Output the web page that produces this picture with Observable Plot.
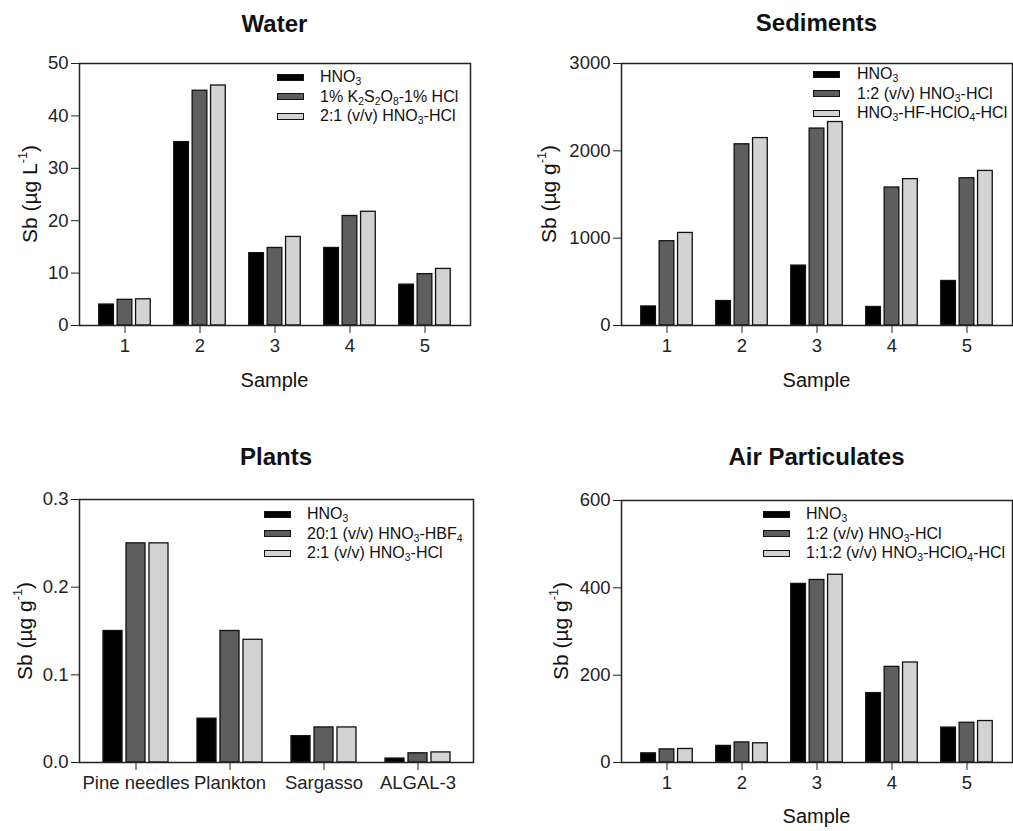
<!DOCTYPE html>
<html>
<head>
<meta charset="utf-8">
<script src="https://cdn.jsdelivr.net/npm/d3@7"></script>
<script src="https://cdn.jsdelivr.net/npm/@observablehq/plot@0.6"></script>
<style>
  html, body { margin: 0; padding: 0; background: #fff; }
  #root { position: relative; width: 1013px; height: 831px; overflow: hidden; background: #fff;
          font-family: "Liberation Sans", Arial, Helvetica, sans-serif; color: #111; }
  .abs { position: absolute; white-space: nowrap; }
  .title { font-weight: bold; font-size: 24px; line-height: 24px; transform: translateX(-50%); }
  .xlab { font-size: 20px; line-height: 20px; transform: translateX(-50%); }
  .ylab { font-size: 21px; line-height: 21px; transform: translate(-50%, -50%) rotate(-90deg); }
  .legend { font-size: 16px; }
  .legend .row { display: flex; align-items: center; height: 19.5px; }
  .legend .sw { width: 27px; height: 7px; box-sizing: border-box; border: 1.3px solid #111; }
  sub { font-size: 0.65em; vertical-align: -0.3em; line-height: 0; }
  sup { font-size: 0.6em; vertical-align: 0.75em; line-height: 0; }
</style>
</head>
<body>
<div id="root"></div>
<script>
// ---------- Data ----------
const waterSamples = ["1", "2", "3", "4", "5"];
const waterHNO3 = [4, 35, 13.8, 14.8, 7.8];
const waterK2S2O8HCl = [4.9, 44.8, 14.8, 20.9, 9.8];
const waterHNO3HCl = [5, 45.8, 16.9, 21.7, 10.8];
const waterTicks = [0, 10, 20, 30, 40, 50];
const waterLegend = ["HNO<sub>3</sub>", "1% K<sub>2</sub>S<sub>2</sub>O<sub>8</sub>-1% HCl", "2:1 (v/v) HNO<sub>3</sub>-HCl"];

const sedSamples = ["1", "2", "3", "4", "5"];
const sedHNO3 = [218, 280, 686, 212, 510];
const sedHNO3HCl = [965, 2075, 2255, 1580, 1686];
const sedHNO3HFHClO4HCl = [1060, 2146, 2330, 1676, 1770];
const sedTicks = [0, 1000, 2000, 3000];
const sedLegend = ["HNO<sub>3</sub>", "1:2 (v/v) HNO<sub>3</sub>-HCl", "HNO<sub>3</sub>-HF-HClO<sub>4</sub>-HCl"];

const plantSamples = ["Pine needles", "Plankton", "Sargasso", "ALGAL-3"];
const plantHNO3 = [0.15, 0.05, 0.03, 0.0045];
const plantHNO3HBF4 = [0.25, 0.15, 0.04, 0.0105];
const plantHNO3HCl = [0.25, 0.14, 0.04, 0.0115];
const plantTicks = [0, 0.1, 0.2, 0.3];
const plantLegend = ["HNO<sub>3</sub>", "20:1 (v/v) HNO<sub>3</sub>-HBF<sub>4</sub>", "2:1 (v/v) HNO<sub>3</sub>-HCl"];

const airSamples = ["1", "2", "3", "4", "5"];
const airHNO3 = [21, 38, 409, 159, 80];
const airHNO3HCl = [30, 46, 418, 219, 91];
const airHNO3HClO4HCl = [31, 44, 430, 229, 95];
const airTicks = [0, 200, 400, 600];
const airLegend = ["HNO<sub>3</sub>", "1:2 (v/v) HNO<sub>3</sub>-HCl", "1:1:2 (v/v) HNO<sub>3</sub>-HClO<sub>4</sub>-HCl"];

const seriesFills = ["#000000", "#5e5e5e", "#d3d3d3"];

// ---------- Layout ----------
const PAD_INNER = 0.27, PAD_OUTER = 0.22;
const root = document.getElementById("root");

function addDiv(cls, html, style) {
  const d = document.createElement("div");
  d.className = "abs " + cls;
  d.innerHTML = html;
  Object.assign(d.style, style);
  root.appendChild(d);
  return d;
}

function panel(cfg) {
  const band = d3.scaleBand().domain(cfg.cats)
    .range([cfg.ml, cfg.width - cfg.mr]).paddingInner(PAD_INNER).paddingOuter(PAD_OUTER);
  const third = band.bandwidth() / 3;
  const g = cfg.gap;
  const marks = cfg.series.map((s, k) =>
    Plot.barY(cfg.cats.map((c, i) => ({cat: c, value: s[i]})), {
      x: "cat", y: "value", fill: seriesFills[k], stroke: "#111", strokeWidth: 1.3,
      insetLeft: k * third + g, insetRight: (2 - k) * third + g
    })
  );
  marks.push(Plot.frame({stroke: "#222", strokeWidth: 1.5}));
  const svg = Plot.plot({
    width: cfg.width, height: cfg.height,
    marginLeft: cfg.ml, marginRight: cfg.mr, marginTop: cfg.mt, marginBottom: cfg.mb,
    style: {fontFamily: '"Liberation Sans", Arial, sans-serif', fontSize: "18.5px", color: "#222", background: "transparent", overflow: "visible"},
    x: {type: "band", domain: cfg.cats, paddingInner: PAD_INNER, paddingOuter: PAD_OUTER, label: null, tickSize: 8, tickPadding: 5},
    y: {domain: [0, cfg.ticks[cfg.ticks.length - 1]], ticks: cfg.ticks, tickFormat: cfg.fmt, label: null, tickSize: 8, tickPadding: 3},
    marks
  });
  svg.style.position = "absolute";
  svg.style.left = cfg.left + "px";
  svg.style.top = cfg.top + "px";
  root.appendChild(svg);

  const frameCx = cfg.left + (cfg.ml + cfg.width - cfg.mr) / 2;
  const frameCy = cfg.top + (cfg.mt + cfg.height - cfg.mb) / 2;
  addDiv("title", cfg.title, {left: frameCx + "px", top: cfg.titleTop + "px"});
  addDiv("ylab", cfg.ylabel, {left: cfg.ylabX + "px", top: frameCy + "px"});
  if (cfg.xlabel) addDiv("xlab", cfg.xlabel, {left: frameCx + "px", top: cfg.xlabTop + "px"});

  const lg = addDiv("legend", "", {left: cfg.legX + "px", top: (cfg.legY - 9.75) + "px"});
  cfg.legend.forEach((txt, k) => {
    const row = document.createElement("div");
    row.className = "row";
    row.innerHTML = `<div class="sw" style="background:${seriesFills[k]}"></div><div style="margin-left:${cfg.legGap}px">${txt}</div>`;
    lg.appendChild(row);
  });
}

const fmtInt = d3.format("d");

panel({
  left: 0, top: 40, width: 506, height: 360, ml: 79, mr: 36, mt: 23, mb: 75, gap: 1.75,
  cats: waterSamples, series: [waterHNO3, waterK2S2O8HCl, waterHNO3HCl], ticks: waterTicks, fmt: fmtInt,
  title: "Water", titleTop: 12, ylabel: "Sb (µg L<sup>-1</sup>)", ylabX: 29, xlabel: "Sample", xlabTop: 370,
  legend: waterLegend, legX: 277, legY: 77, legGap: 16
});
panel({
  left: 506, top: 40, width: 507, height: 360, ml: 115, mr: 1, mt: 23, mb: 75, gap: 1.75,
  cats: sedSamples, series: [sedHNO3, sedHNO3HCl, sedHNO3HFHClO4HCl], ticks: sedTicks, fmt: fmtInt,
  title: "Sediments", titleTop: 11, ylabel: "Sb (µg g<sup>-1</sup>)", ylabX: 548, xlabel: "Sample", xlabTop: 370,
  legend: sedLegend, legX: 813, legY: 74, legGap: 17
});
panel({
  left: 0, top: 475, width: 506, height: 356, ml: 79, mr: 33, mt: 24, mb: 69, gap: 2,
  cats: plantSamples, series: [plantHNO3, plantHNO3HBF4, plantHNO3HCl], ticks: plantTicks, fmt: d3.format(".1f"),
  title: "Plants", titleTop: 445, ylabel: "Sb (µg g<sup>-1</sup>)", ylabX: 24, xlabel: null,
  legend: plantLegend, legX: 264, legY: 514, legGap: 16
});
panel({
  left: 506, top: 475, width: 507, height: 356, ml: 115, mr: 1, mt: 25, mb: 69, gap: 1.75,
  cats: airSamples, series: [airHNO3, airHNO3HCl, airHNO3HClO4HCl], ticks: airTicks, fmt: fmtInt,
  title: "Air Particulates", titleTop: 445, ylabel: "Sb (µg g<sup>-1</sup>)", ylabX: 560, xlabel: "Sample", xlabTop: 806,
  legend: airLegend, legX: 763, legY: 514, legGap: 16
});
</script>
</body>
</html>
